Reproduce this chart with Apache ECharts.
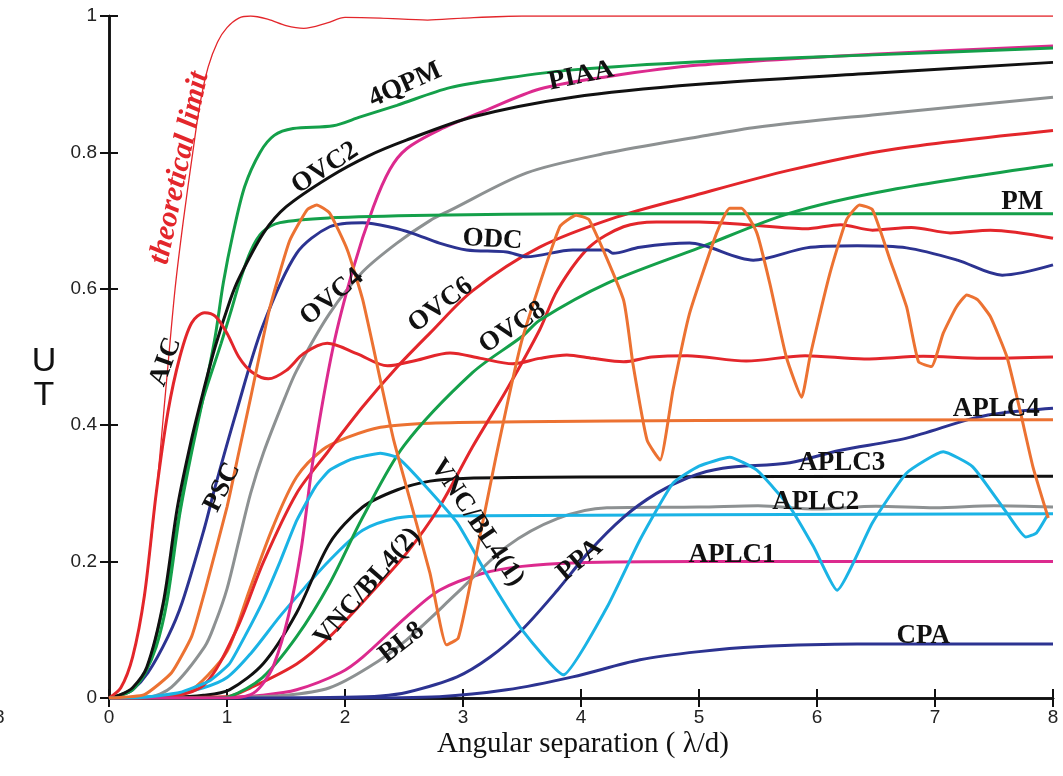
<!DOCTYPE html>
<html>
<head>
<meta charset="utf-8">
<script src="https://cdn.jsdelivr.net/npm/echarts@6/dist/echarts.min.js"></script>
<style>
  html, body { margin: 0; padding: 0; background: #fff; }
  #main { width: 1063px; height: 776px; }
</style>
</head>
<body>
<div id="main"></div>
<script>
// usable throughput vs angular separation
var xTicks = [0, 1, 2, 3, 4, 5, 6, 7, 8];
var yTicks = [0, 0.2, 0.4, 0.6, 0.8, 1];

var theoryLimit = [[0,0],[0.1,0.015],[0.2,0.06],[0.3,0.15],[0.4,0.3],[0.48,0.45],[0.56,0.6],[0.63,0.7],[0.71,0.8],[0.77,0.87],[0.84,0.925],[0.92,0.962],[1.0,0.983],[1.1,0.997],[1.2,1.0],[1.35,0.995],[1.5,0.986],[1.65,0.982],[1.85,0.99],[2.0,0.998],[2.3,0.997],[2.7,0.994],[3.0,0.997],[3.5,1.0],[8,1.0]];
var aic = [[0,0],[0.1,0.015],[0.2,0.06],[0.3,0.15],[0.4,0.3],[0.5,0.42],[0.6,0.5],[0.7,0.55],[0.81,0.565],[0.9,0.56],[1.0,0.535],[1.1,0.5],[1.21,0.478],[1.35,0.468],[1.5,0.48],[1.65,0.505],[1.85,0.52],[2.1,0.505],[2.36,0.487],[2.6,0.495],[2.89,0.506],[3.15,0.498],[3.42,0.49],[3.65,0.498],[3.88,0.503],[4.1,0.498],[4.36,0.493],[4.6,0.5],[4.9,0.502],[5.4,0.494],[5.9,0.502],[6.4,0.497],[6.9,0.501],[7.4,0.498],[8,0.5]];
var ovc2 = [[0,0],[0.1,0.005],[0.2,0.015],[0.32,0.045],[0.46,0.14],[0.58,0.28],[0.7,0.38],[0.8,0.45],[0.9,0.515],[1.03,0.585],[1.1,0.615],[1.31,0.682],[1.5,0.72],[1.87,0.764],[2.2,0.795],[2.52,0.818],[3.08,0.852],[3.93,0.881],[5.0,0.9],[6.47,0.916],[8,0.932]];
var qpm4 = [[0,0],[0.1,0.004],[0.2,0.012],[0.3,0.035],[0.4,0.075],[0.49,0.14],[0.6,0.27],[0.7,0.36],[0.81,0.45],[0.9,0.53],[0.97,0.61],[1.05,0.68],[1.15,0.75],[1.28,0.8],[1.4,0.825],[1.56,0.835],[1.9,0.839],[2.13,0.852],[2.44,0.869],[2.89,0.895],[3.37,0.909],[3.93,0.921],[5,0.933],[6.47,0.943],[8,0.953]];
var pm = [[0,0],[0.1,0.005],[0.2,0.014],[0.32,0.042],[0.46,0.135],[0.6,0.275],[0.7,0.37],[0.8,0.44],[0.95,0.52],[1.03,0.565],[1.11,0.612],[1.2,0.655],[1.3,0.683],[1.45,0.697],[1.87,0.704],[2.72,0.708],[4,0.71],[8,0.71]];
var piaa = [[0,0],[1.0,0],[1.2,0.005],[1.3,0.02],[1.4,0.05],[1.52,0.12],[1.63,0.22],[1.73,0.35],[1.9,0.515],[2.07,0.63],[2.24,0.72],[2.38,0.775],[2.52,0.805],[2.8,0.833],[3.17,0.86],[3.65,0.893],[4.22,0.911],[5,0.928],[6.47,0.944],[8,0.956]];
var pscOdc = [[0,0],[0.1,0.004],[0.2,0.012],[0.33,0.037],[0.5,0.09],[0.62,0.14],[0.81,0.25],[0.9,0.31],[1.08,0.42],[1.3,0.544],[1.59,0.652],[1.87,0.691],[2.15,0.697],[2.4,0.69],[2.58,0.681],[2.8,0.667],[3.03,0.657],[3.37,0.654],[3.54,0.647],[3.93,0.657],[4.22,0.657],[4.27,0.652],[4.5,0.661],[4.92,0.667],[5.46,0.642],[5.91,0.66],[6.34,0.663],[6.76,0.66],[7.19,0.642],[7.57,0.62],[8,0.635]];
var orangeWave = [[0,0],[0.3,0.005],[0.53,0.037],[0.7,0.09],[0.81,0.155],[1.0,0.28],[1.1,0.36],[1.2,0.44],[1.36,0.57],[1.53,0.67],[1.68,0.716],[1.76,0.723],[1.87,0.711],[2.02,0.657],[2.15,0.584],[2.3,0.466],[2.41,0.38],[2.52,0.31],[2.72,0.183],[2.86,0.078],[2.96,0.088],[3.08,0.183],[3.28,0.354],[3.5,0.525],[3.82,0.691],[3.96,0.708],[4.07,0.701],[4.36,0.584],[4.44,0.49],[4.56,0.378],[4.67,0.349],[4.78,0.452],[4.92,0.564],[5.15,0.682],[5.26,0.718],[5.36,0.718],[5.49,0.682],[5.6,0.608],[5.74,0.5],[5.87,0.441],[5.94,0.5],[6.11,0.623],[6.25,0.701],[6.36,0.723],[6.47,0.716],[6.62,0.642],[6.76,0.573],[6.86,0.493],[6.97,0.486],[7.07,0.535],[7.18,0.573],[7.27,0.591],[7.36,0.584],[7.47,0.559],[7.61,0.5],[7.72,0.422],[7.83,0.339],[7.96,0.264]];
var orangeFlat = [[0,0],[0.5,0.002],[0.7,0.012],[0.9,0.045],[1.02,0.075],[1.19,0.158],[1.39,0.251],[1.59,0.324],[1.81,0.364],[2.02,0.382],[2.3,0.397],[2.72,0.403],[3.5,0.405],[5,0.407],[8,0.408]];
var ovc4 = [[0,0],[0.33,0.001],[0.53,0.016],[0.81,0.075],[0.9,0.11],[1.0,0.16],[1.1,0.23],[1.2,0.3],[1.31,0.36],[1.49,0.44],[1.59,0.48],[1.87,0.564],[2.15,0.625],[2.44,0.667],[2.72,0.7],[2.89,0.715],[3.54,0.77],[4.22,0.799],[5,0.823],[5.49,0.837],[6.47,0.855],[8,0.881]];
var ovc6 = [[0,0],[0.5,0.002],[0.81,0.02],[1.08,0.1],[1.31,0.2],[1.59,0.3],[1.85,0.36],[2.15,0.427],[2.44,0.485],[2.72,0.535],[3.08,0.597],[3.65,0.661],[4.3,0.705],[4.92,0.735],[5.77,0.774],[6.62,0.804],[8,0.832]];
var redSteep = [[0,0],[1.0,0.002],[1.2,0.015],[1.59,0.05],[1.87,0.09],[2.2,0.15],[2.52,0.212],[2.8,0.28],[3.08,0.368],[3.37,0.452],[3.65,0.54],[3.8,0.598],[4.07,0.661],[4.36,0.691],[4.64,0.698],[5.0,0.698],[5.4,0.694],[5.9,0.688],[6.2,0.694],[6.47,0.686],[6.8,0.69],[7.13,0.682],[7.47,0.686],[8,0.674]];
var ovc8 = [[0,0],[0.9,0],[1.02,0.002],[1.3,0.03],[1.59,0.09],[1.87,0.168],[2.15,0.265],[2.5,0.37],[3.08,0.477],[3.5,0.53],[3.65,0.554],[4.22,0.608],[5,0.66],[5.77,0.711],[6.62,0.745],[8,0.782]];
var cyanWave = [[0,0],[0.3,0.001],[0.6,0.008],[0.85,0.025],[1.02,0.05],[1.15,0.09],[1.31,0.144],[1.45,0.2],[1.59,0.26],[1.75,0.31],[1.87,0.334],[2.05,0.35],[2.3,0.359],[2.45,0.352],[2.66,0.315],[2.95,0.257],[3.23,0.173],[3.5,0.1],[3.85,0.034],[4.22,0.133],[4.5,0.232],[4.78,0.315],[5.0,0.34],[5.26,0.353],[5.49,0.334],[5.77,0.28],[5.97,0.222],[6.17,0.158],[6.47,0.257],[6.76,0.33],[7.07,0.361],[7.32,0.339],[7.61,0.271],[7.77,0.236],[7.86,0.242],[7.96,0.27]];
var cyanFlat = [[0,0],[0.5,0.004],[0.8,0.015],[1.0,0.03],[1.2,0.065],[1.45,0.12],[1.65,0.16],[1.87,0.202],[2.15,0.246],[2.44,0.264],[2.72,0.267],[8,0.27]];
var blackFlat = [[0,0],[0.5,0.001],[0.8,0.004],[1.02,0.012],[1.31,0.051],[1.59,0.125],[1.87,0.227],[2.15,0.28],[2.44,0.305],[2.72,0.318],[3.0,0.322],[4,0.324],[8,0.325]];
var aplc2 = [[0,0],[1.0,0.001],[1.5,0.004],[1.87,0.015],[2.2,0.045],[2.52,0.085],[2.95,0.154],[3.37,0.222],[3.8,0.263],[4.22,0.279],[5,0.28],[5.5,0.282],[6,0.277],[6.5,0.281],[7,0.279],[7.5,0.282],[8,0.28]];
var aplc1 = [[0,0],[1.0,0.001],[1.3,0.004],[1.59,0.012],[1.96,0.037],[2.15,0.06],[2.52,0.119],[2.8,0.158],[3.17,0.183],[3.5,0.193],[3.93,0.198],[5,0.2],[8,0.2]];
var aplc4 = [[0,0],[1.5,0],[2.0,0.001],[2.3,0.003],[2.52,0.008],[2.95,0.031],[3.23,0.06],[3.5,0.1],[3.8,0.158],[4.07,0.215],[4.36,0.265],[4.64,0.3],[4.92,0.324],[5.2,0.337],[5.77,0.345],[6.19,0.363],[6.76,0.381],[7.32,0.41],[7.61,0.419],[8,0.425]];
var cpa = [[0,0],[2.0,0],[2.8,0.002],[3.37,0.012],[3.93,0.031],[4.5,0.056],[5,0.068],[5.49,0.075],[6.34,0.079],[8,0.079]];

var RED = '#e3262b', GREEN = '#14a04a', BLACK = '#111111', PINK = '#dc2a8e',
    NAVY = '#2c3391', ORANGE = '#ec7232', GREY = '#8d9192', CYAN = '#1ab3e5';

function line(data, color, width, smooth){
    return {
        type: 'line', data: data, symbol: 'none', silent: true,
        smooth: smooth === undefined ? 0.3 : smooth,
        lineStyle: { color: color, width: width || 3 }
    };
}

var chart = echarts.init(document.getElementById('main'));

var axisLine = { show: true, lineStyle: { color: '#111', width: 2.5 } };
var tickIn = { show: true, inside: true, length: 9, lineStyle: { color: '#111', width: 2 } };

chart.setOption({
    animation: false,
    backgroundColor: '#fff',
    grid: { left: 109, right: 10, top: 16, bottom: 78 },
    xAxis: [
        { type: 'value', min: 0, max: 8, interval: 1, axisLine: axisLine, axisTick: tickIn, splitLine: { show: false },
          axisLabel: { margin: 10, fontSize: 19, color: '#222', fontFamily: 'Liberation Sans' } },
        { type: 'value', position: 'top', min: 0, max: 8, interval: 1, axisLine: axisLine, axisTick: tickIn,
          splitLine: { show: false }, axisLabel: { show: false } }
    ],
    yAxis: [
        { type: 'value', min: 0, max: 1, interval: 0.2, axisLine: axisLine, axisTick: tickIn, splitLine: { show: false },
          axisLabel: { margin: 12, fontSize: 19, color: '#222', fontFamily: 'Liberation Sans' } },
        { type: 'value', position: 'right', min: 0, max: 1, interval: 0.2, axisLine: axisLine, axisTick: tickIn,
          splitLine: { show: false }, axisLabel: { show: false } }
    ],
    series: [
        line(theoryLimit, RED, 1.3),
        line(cpa, NAVY),
        line(aplc1, PINK),
        line(aplc2, GREY),
        line(cyanFlat, CYAN),
        line(blackFlat, BLACK),
        line(aplc4, NAVY),
        line(orangeFlat, ORANGE),
        line(redSteep, RED),
        line(ovc8, GREEN),
        line(ovc6, RED),
        line(ovc4, GREY),
        line(pscOdc, NAVY),
        line(piaa, PINK),
        line(pm, GREEN),
        line(qpm4, GREEN),
        line(ovc2, BLACK),
        line(aic, RED),
        line(cyanWave, CYAN, 3, 0.15),
        line(orangeWave, ORANGE, 3, 0.15)
    ]
});

// curve names, placed in data coordinates
var tags = [
    ['theoretical limit', 0.6, 0.777, 78, RED, 30],
    ['AIC', 0.48, 0.493, 70],
    ['PSC', 0.96, 0.309, 63],
    ['OVC2', 1.83, 0.777, 33],
    ['4QPM', 2.51, 0.899, 24],
    ['PIAA', 4.0, 0.912, 12],
    ['ODC', 3.25, 0.672, -3],
    ['PM', 7.74, 0.727, 0],
    ['OVC4', 1.89, 0.588, 40],
    ['OVC6', 2.81, 0.576, 37],
    ['OVC8', 3.42, 0.543, 33],
    ['VNC/BL4(1)', 3.12, 0.257, -56],
    ['VNC/BL4(2)', 2.19, 0.163, 49],
    ['BL8', 2.48, 0.081, 38],
    ['PPA', 3.99, 0.202, 40],
    ['APLC1', 5.28, 0.21, 0],
    ['APLC2', 5.99, 0.287, 0],
    ['APLC3', 6.21, 0.345, 0],
    ['APLC4', 7.52, 0.424, 0],
    ['CPA', 6.9, 0.091, 0]
];

var graphics = [];
tags.forEach(function(t){
    var p = chart.convertToPixel({ xAxisIndex: 0, yAxisIndex: 0 }, [t[1], t[2]]);
    graphics.push({
        type: 'text', x: p[0], y: p[1], rotation: t[3] * Math.PI / 180, z: 100,
        style: {
            text: t[0], fill: t[4] || '#111', align: 'center', verticalAlign: 'middle',
            font: (t[5] ? 'italic bold ' + t[5] : 'bold 27') + 'px "Liberation Serif", serif'
        }
    });
});

graphics.push(
    { type: 'text', x: 44, y: 362, style: { text: 'U', fill: '#111', align: 'center', verticalAlign: 'middle', font: '34px "Liberation Sans", sans-serif' } },
    { type: 'text', x: 44, y: 396, style: { text: 'T', fill: '#111', align: 'center', verticalAlign: 'middle', font: '34px "Liberation Sans", sans-serif' } },
    { type: 'text', x: 583, y: 744, style: { text: 'Angular separation ( \u03bb/d)', fill: '#111', align: 'center', verticalAlign: 'middle', font: '29px "Liberation Serif", serif' } },
    { type: 'text', x: -6, y: 718, style: { text: '8', fill: '#222', align: 'left', verticalAlign: 'middle', font: '19px "Liberation Sans", sans-serif' } }
);

chart.setOption({ graphic: graphics });
</script>
</body>
</html>
